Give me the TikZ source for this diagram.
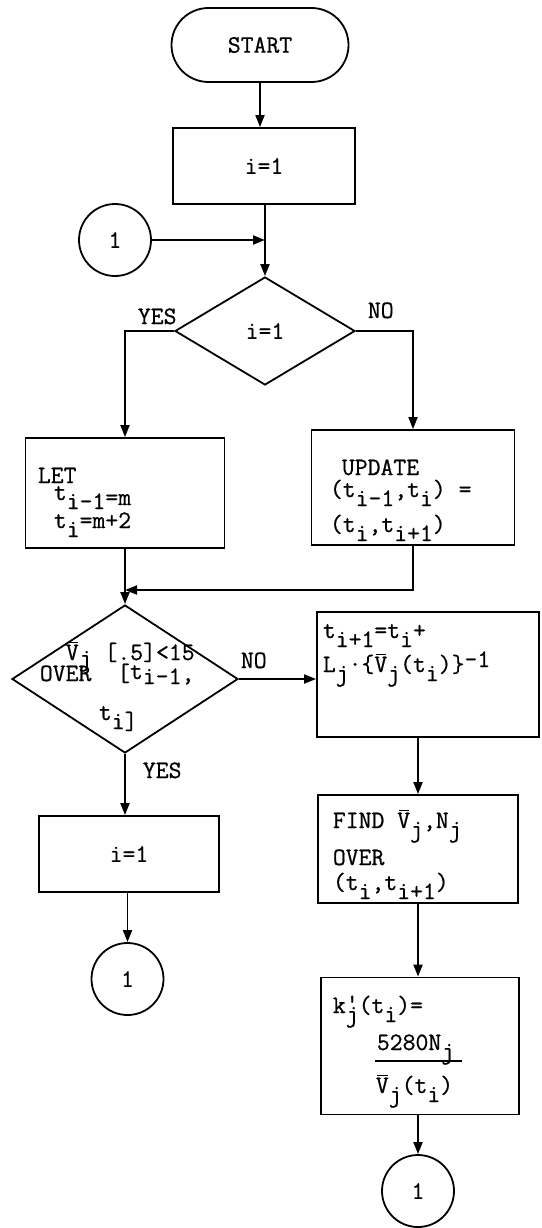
\documentclass[tikz,border=0pt]{standalone}
\usepackage{fontspec}
\setmonofont{Latin Modern Mono}[FakeBold=0.7]
\usetikzlibrary{shapes.geometric,shapes.misc,arrows.meta,calc}

% typewriter-style lowered / raised characters and V with a bar
\newcommand\lo[1]{\raisebox{-9pt}{#1}}
\newcommand\hi[1]{\raisebox{5pt}{#1}}
\newcommand\bv{\makebox[0pt][l]{\hspace{0.06em}\raisebox{0.69em}{\rule{0.42em}{1.2pt}}}V}

\begin{document}
\begin{tikzpicture}[x=1pt,y=-1pt,
  line width=1.8pt,
  every node/.style={font=\ttfamily\fontsize{25}{30}\selectfont, inner sep=0pt},
  box/.style={draw, rectangle},
  term/.style={draw, rounded rectangle, minimum width=177pt, minimum height=74pt},
  decision/.style={draw, diamond},
  conn/.style={draw, circle, minimum size=72pt},
  arr/.style={-{Triangle[length=12pt,width=9pt]}},
  txt/.style={anchor=base west},
]
\useasboundingbox (0,0) rectangle (541,1228);

% ---- shapes ----
\node[term] (start) at (260,45) {START};
\node[box, minimum width=182pt, minimum height=76pt] (init) at (264,166) {i=1};
\node[conn] (c1) at (115,240) {1};
\node[decision, minimum width=180pt, minimum height=108pt] (d1) at (265,331) {i=1};
\node[box, minimum width=199pt, minimum height=110pt] (let) at (125,493) {};
\node[box, minimum width=203pt, minimum height=115pt] (upd) at (413,487.5) {};
\coordinate (merge) at (125,590);
\node[decision, minimum width=226pt, minimum height=148pt] (d2) at (125,679) {};
\node[box, minimum width=222pt, minimum height=125pt] (next) at (428,674.5) {};
\node[box, minimum width=180pt, minimum height=76pt] (reset) at (129,854) {i=1};
\node[conn] (c2) at (127.5,979) {1};
\node[box, minimum width=200pt, minimum height=108pt] (find) at (418,849) {};
\node[box, minimum width=198pt, minimum height=137pt] (kbox) at (420,1046) {};
\node[conn] (c3) at (418,1191) {1};

% ---- texts inside the boxes ----
\node[txt] (let1) at (37,483) {LET};
\node[txt] (let2) at (53,500) {t\lo{i-1}\raisebox{-5pt}{=m}};
\node[txt] (let3) at (53,528) {t\lo{i}=m+2};

\node[txt] (upd1) at (341,475) {UPDATE};
\node[txt] (upd2) at (329,497) {(t\lo{i-1},t\lo{i}) =};
\node[txt] (upd3) at (329,532) {(t\lo{i},t\lo{i+1})};

\node[txt] (cond1) at (65,660) {\bv\raisebox{-6pt}{j} [.5]<15};
\node[txt] (cond2) at (39,681) {OVER\ \ [\raisebox{2pt}{t}\raisebox{-3pt}{i-1},};
\node[txt] (cond3) at (98,720) {t\lo{i]}};

\node[txt] (next1) at (322,638) {t\lo{i+1}=t\lo{i}+};
\node[txt] (next2) at (322,672) {L\lo{j}·\{\bv\lo{j}(t\lo{i})\}\hi{-1}};

\node[txt] (find1) at (332,828) {FIND \bv\lo{j},N\lo{j}};
\node[txt] (find2) at (332,865) {OVER};
\node[txt] (find3) at (332,890) {(t\lo{i},t\lo{i+1})};

\node[txt] (k1) at (332,1013) {k\makebox[0pt][l]{\raisebox{2pt}{'}}\lo{j}(t\lo{i})=};
\node[txt] (k2) at (376,1050) {5280N\lo{j}};
\node[txt] (k3) at (375,1093) {\bv\lo{j}(t\lo{i})};
\draw[line width=1.4pt] (375,1061) -- (462,1061);

% ---- branch labels ----
\node[txt] (yes1) at (137,324) {YES};
\node[txt] (no1) at (367,318) {NO};
\node[txt] (no2) at (240,668) {NO};
\node[txt] (yes2) at (142,778) {YES};

% ---- connectors ----
\coordinate (j1) at (d1.north |- c1.east);
\draw[arr] (start.south) -- (start.south |- init.north);
\draw[arr] (d1.north |- init.south) -- (d1.north);
\draw[arr] (c1.east) -- (j1);
\draw[arr] (d1.west) -| (let.north);
\draw[arr] (d1.east) -| (upd.north);
\draw[arr] (let.south) -- (d2.north);
\draw[arr] (upd.south) |- (merge);
\draw[arr] (d2.east) -- (d2.east -| next.west);
\draw[arr] (d2.south) -- (d2.south |- reset.north);
\draw[arr] (c2.north |- reset.south) -- (c2.north);
\draw[arr] (find.north |- next.south) -- (find.north);
\draw[arr] (find.south) -- (find.south |- kbox.north);
\draw[arr] (c3.north |- kbox.south) -- (c3.north);
\end{tikzpicture}
\end{document}
